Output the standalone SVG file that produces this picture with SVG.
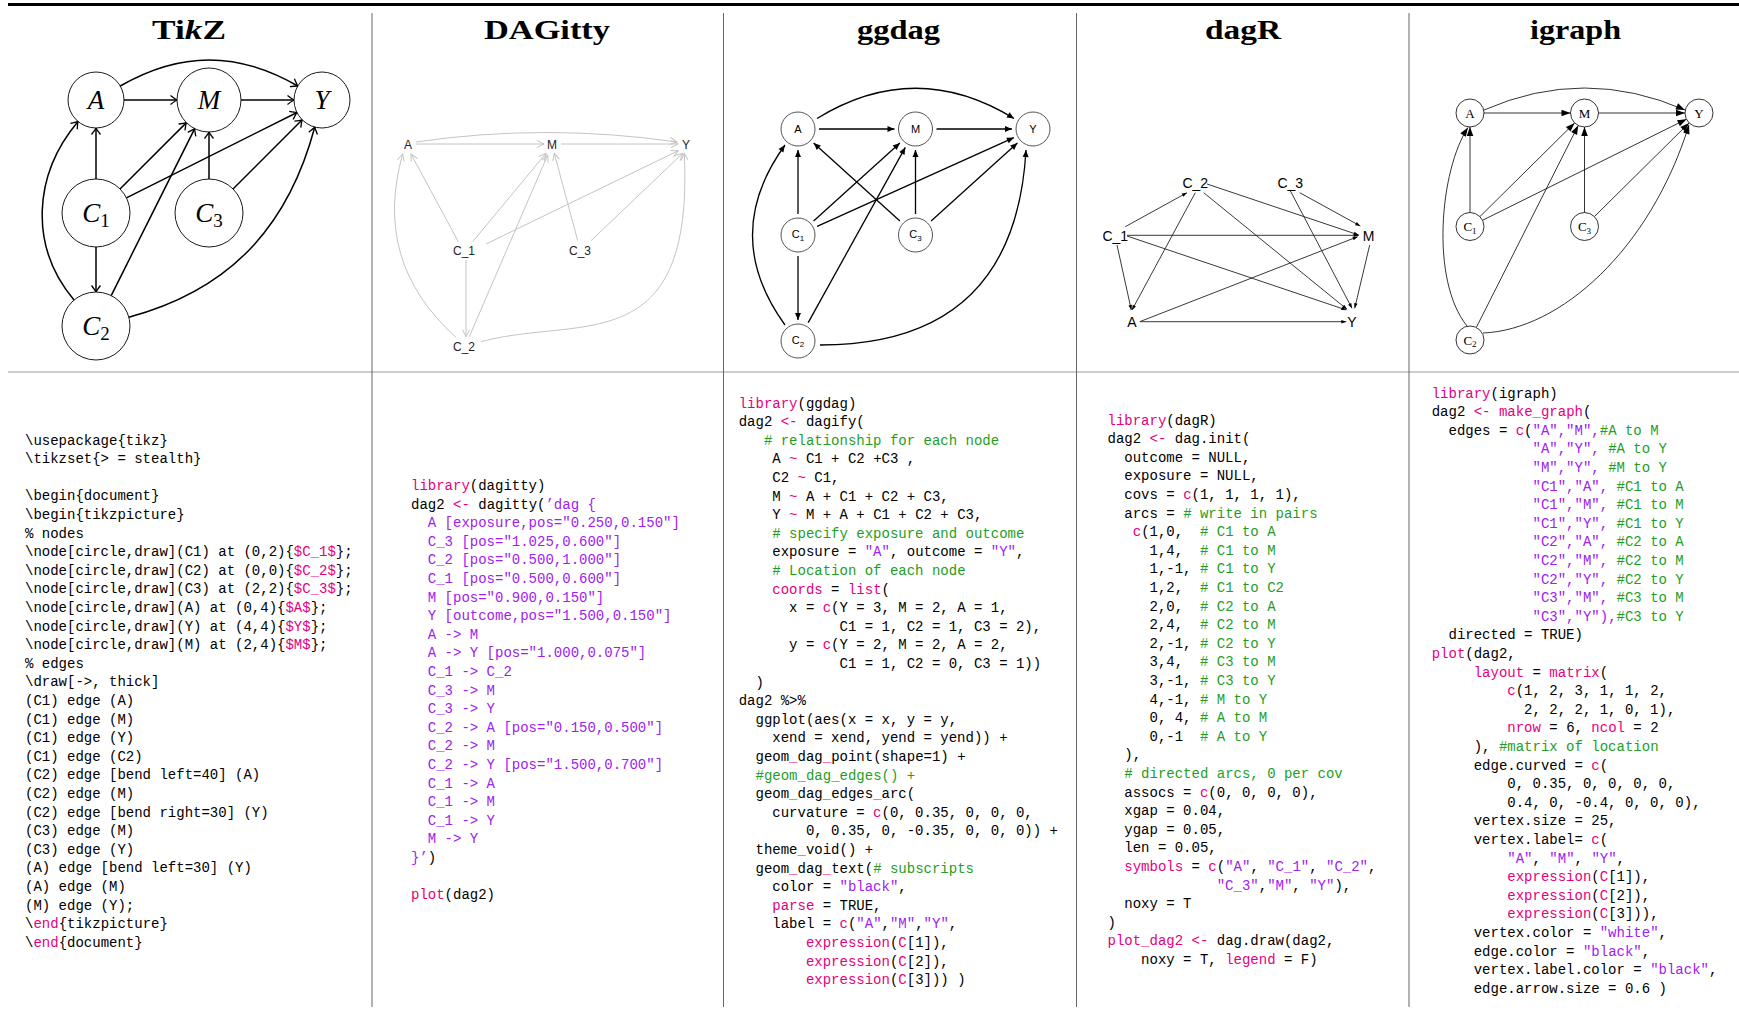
<svg xmlns="http://www.w3.org/2000/svg" width="1739" height="1010" viewBox="0 0 1739 1010">
<style>
.title{font-family:"Liberation Serif",serif;font-weight:bold;font-size:27px;fill:#000}
.code{font-family:"Liberation Mono",monospace;font-size:14px;fill:#000;white-space:pre}
.k{fill:#e5007e}.s{fill:#a020f0}.c{fill:#1f9e1f}
.tkc{fill:#fff;stroke:#000;stroke-width:0.9}
.tkl{font-family:"Liberation Serif",serif;font-style:italic;font-size:27px;text-anchor:middle}
.tke{fill:none;stroke:#000;stroke-width:1.5;marker-end:url(#tk)}
.dgl{font-family:"Liberation Sans",sans-serif;font-size:12px;fill:#222;text-anchor:middle}
.dge{fill:none;stroke:#c4c4c4;stroke-width:1;marker-end:url(#dg)}
.ggc{fill:#fff;stroke:#555;stroke-width:1}
.ggl{font-family:"Liberation Sans",sans-serif;font-size:11px;text-anchor:middle}
.gge{fill:none;stroke:#000;stroke-width:1.3;marker-end:url(#gg)}
.drl{font-family:"Liberation Sans",sans-serif;font-size:14px;text-anchor:middle}
.dre{fill:none;stroke:#222;stroke-width:0.9;marker-end:url(#dr)}
.igc{fill:#fff;stroke:#000;stroke-width:0.8}
.igl{font-family:"Liberation Serif",serif;font-size:13px;text-anchor:middle}
.ige{fill:none;stroke:#000;stroke-width:0.8;marker-end:url(#ig)}
.sep{stroke:#666;stroke-width:1}
</style>
<defs>
<marker id="tk" markerUnits="userSpaceOnUse" markerWidth="14" markerHeight="14" viewBox="-10 -7 14 14" refX="0" refY="0" orient="auto"><path d="M-6.5,-4.5 Q-2,-1 0,0 Q-2,1 -6.5,4.5" fill="none" stroke="#000" stroke-width="1.3"/></marker>
<marker id="dg" markerUnits="userSpaceOnUse" markerWidth="14" markerHeight="14" viewBox="-10 -7 14 14" refX="0" refY="0" orient="auto"><path d="M-7,-3.5 L0,0 L-7,3.5" fill="none" stroke="#c4c4c4" stroke-width="1"/></marker>
<marker id="gg" markerUnits="userSpaceOnUse" markerWidth="14" markerHeight="14" viewBox="-10 -7 14 14" refX="0" refY="0" orient="auto"><path d="M-7,-3 L0,0 L-7,3 Z" fill="#000"/></marker>
<marker id="dr" markerUnits="userSpaceOnUse" markerWidth="14" markerHeight="14" viewBox="-10 -7 14 14" refX="0" refY="0" orient="auto"><path d="M-5,-1.8 L0,0 L-5,1.8 Z" fill="#000"/></marker>
<marker id="ig" markerUnits="userSpaceOnUse" markerWidth="14" markerHeight="14" viewBox="-10 -7 14 14" refX="0" refY="0" orient="auto"><path d="M-9,-3.3 L0,0 L-9,3.3 Z" fill="#000"/></marker>
</defs>
<rect width="1739" height="1010" fill="#fff"/>

<g id="frame">
<line x1="8" y1="4.5" x2="1739" y2="4.5" stroke="#000" stroke-width="3"/>
<line x1="8" y1="372" x2="1739" y2="372" stroke="#999" stroke-width="1"/>
<line class="sep" x1="372" y1="13" x2="372" y2="1007"/>
<line class="sep" x1="723.5" y1="13" x2="723.5" y2="1007"/>
<line class="sep" x1="1076.5" y1="13" x2="1076.5" y2="1007"/>
<line class="sep" x1="1409" y1="13" x2="1409" y2="1007"/>
</g>

<g id="titles">
<text class="title" x="189" y="39" text-anchor="middle" textLength="74" lengthAdjust="spacingAndGlyphs">Ti<tspan font-style="italic">k</tspan>Z</text>
<text class="title" x="547" y="39" text-anchor="middle" textLength="126" lengthAdjust="spacingAndGlyphs">DAGitty</text>
<text class="title" x="898.5" y="39" text-anchor="middle" textLength="83" lengthAdjust="spacingAndGlyphs">ggdag</text>
<text class="title" x="1243" y="39" text-anchor="middle" textLength="76" lengthAdjust="spacingAndGlyphs">dagR</text>
<text class="title" x="1575.5" y="39" text-anchor="middle" textLength="91" lengthAdjust="spacingAndGlyphs">igraph</text>
</g>

<!-- TikZ graph -->
<g id="tikz-edges">
<path class="tke" d="M96,179 L96,128"/>
<path class="tke" d="M120,189 L186.4,122.6"/>
<path class="tke" d="M126.4,197.8 L297,112.5"/>
<path class="tke" d="M96,247 L96,292"/>
<path class="tke" d="M74,300 C29,246.4 33,175 78,121.4"/>
<path class="tke" d="M111.2,295.6 L194.7,128.6"/>
<path class="tke" d="M128.8,317.2 C229.3,290.3 287.9,227.5 314.8,127"/>
<path class="tke" d="M209,179 L209,132"/>
<path class="tke" d="M233,189 L302.2,119.8"/>
<path class="tke" d="M120.2,86 C180.4,51.2 237.6,51.2 297.8,86"/>
<path class="tke" d="M124,100 L177,100"/>
<path class="tke" d="M241,100 L294,100"/>
</g>
<g id="tikz-A"><circle class="tkc" cx="96" cy="100" r="28"/><text class="tkl" x="96" y="109">A</text></g>
<g id="tikz-M"><circle class="tkc" cx="209" cy="100" r="32"/><text class="tkl" x="209" y="109">M</text></g>
<g id="tikz-Y"><circle class="tkc" cx="322" cy="100" r="28"/><text class="tkl" x="322" y="109">Y</text></g>
<g id="tikz-C1"><circle class="tkc" cx="96" cy="213" r="34"/><text class="tkl" x="96" y="222">C<tspan font-style="normal" font-size="19" dy="5">1</tspan></text></g>
<g id="tikz-C3"><circle class="tkc" cx="209" cy="213" r="34"/><text class="tkl" x="209" y="222">C<tspan font-style="normal" font-size="19" dy="5">3</tspan></text></g>
<g id="tikz-C2"><circle class="tkc" cx="96" cy="326" r="34"/><text class="tkl" x="96" y="335">C<tspan font-style="normal" font-size="19" dy="5">2</tspan></text></g>

<!-- DAGitty graph -->
<g id="dagitty-edges">
<path class="dge" d="M416,144 L544,144"/>
<path class="dge" d="M561,144 L678,144"/>
<path class="dge" d="M416,142 Q546,123 677,142"/>
<path class="dge" d="M458.3,241.7 L411,154"/>
<path class="dge" d="M472.7,241.7 L546,153.3"/>
<path class="dge" d="M486,244 L678.3,150.7"/>
<path class="dge" d="M466,260 L466,336.7"/>
<path class="dge" d="M577.7,240.7 L554.3,153.3"/>
<path class="dge" d="M591,240.7 L682.7,153.3"/>
<path class="dge" d="M456,337.3 Q372,262 402.7,154"/>
<path class="dge" d="M469.3,336.7 L547.7,155"/>
<path class="dge" d="M481,341.7 C580,315 694,362 684.3,153.3"/>
</g>
<g id="dagitty-A"><text class="dgl" x="408" y="148.5">A</text></g>
<g id="dagitty-M"><text class="dgl" x="552" y="148.5">M</text></g>
<g id="dagitty-Y"><text class="dgl" x="686" y="148.5">Y</text></g>
<g id="dagitty-C1"><text class="dgl" x="464" y="255">C_1</text></g>
<g id="dagitty-C3"><text class="dgl" x="580" y="255">C_3</text></g>
<g id="dagitty-C2"><text class="dgl" x="464" y="351">C_2</text></g>

<!-- ggdag graph -->
<g id="ggdag-edges">
<path class="gge" d="M819,129 L894.5,129"/>
<path class="gge" d="M936.5,129 L1012,129"/>
<path class="gge" d="M817,118.5 Q915.5,58 1014,118.5"/>
<path class="gge" d="M798,214 L798,150"/>
<path class="gge" d="M813.6,220.9 L899.9,143.1"/>
<path class="gge" d="M817.1,226.4 L1013.9,137.6"/>
<path class="gge" d="M798,256 L798,320"/>
<path class="gge" d="M899.9,220.9 L813.6,143.1"/>
<path class="gge" d="M915.5,214 L915.5,150"/>
<path class="gge" d="M931.1,220.9 L1017.4,143.1"/>
<path class="gge" d="M785,325 Q720,235 785,145"/>
<path class="gge" d="M808.2,322.6 L905.3,147.4"/>
<path class="gge" d="M820,345 Q1015,345 1026,150"/>
</g>
<g id="ggdag-A"><circle class="ggc" cx="798" cy="129" r="17"/><text class="ggl" x="798" y="133">A</text></g>
<g id="ggdag-M"><circle class="ggc" cx="915.5" cy="129" r="17"/><text class="ggl" x="915.5" y="133">M</text></g>
<g id="ggdag-Y"><circle class="ggc" cx="1033" cy="129" r="17"/><text class="ggl" x="1033" y="133">Y</text></g>
<g id="ggdag-C1"><circle class="ggc" cx="798" cy="235" r="17"/><text class="ggl" x="798" y="238">C<tspan font-size="8" dy="2.5">1</tspan></text></g>
<g id="ggdag-C3"><circle class="ggc" cx="915.5" cy="235" r="17"/><text class="ggl" x="915.5" y="238">C<tspan font-size="8" dy="2.5">3</tspan></text></g>
<g id="ggdag-C2"><circle class="ggc" cx="798" cy="341" r="17"/><text class="ggl" x="798" y="344">C<tspan font-size="8" dy="2.5">2</tspan></text></g>

<!-- dagR graph -->
<g id="dagr-edges">
<path class="dre" d="M1125.3,226.7 L1187,192.7"/>
<path class="dre" d="M1127,235.3 L1358.7,235.3" stroke="#555" stroke-width="1.6"/>
<path class="dre" d="M1127,236 L1346.3,310"/>
<path class="dre" d="M1117,245 L1131.3,310"/>
<path class="dre" d="M1195.3,192.7 L1132,310"/>
<path class="dre" d="M1207,184 L1358.7,235"/>
<path class="dre" d="M1203.7,192.7 L1347,309.3"/>
<path class="dre" d="M1299.7,192.7 L1360.3,226"/>
<path class="dre" d="M1290.3,190.7 L1352,308.3"/>
<path class="dre" d="M1369.7,245 L1354.7,308.3"/>
<path class="dre" d="M1139.7,321.7 L1357.7,236.7"/>
<path class="dre" d="M1140.3,321.7 L1346.3,321.7"/>
</g>
<g id="dagr-C2"><text class="drl" x="1195.3" y="187.7">C_2</text></g>
<g id="dagr-C3"><text class="drl" x="1290.3" y="187.7">C_3</text></g>
<g id="dagr-C1"><text class="drl" x="1115.3" y="241">C_1</text></g>
<g id="dagr-M"><text class="drl" x="1368.7" y="241">M</text></g>
<g id="dagr-A"><text class="drl" x="1132" y="326.7">A</text></g>
<g id="dagr-Y"><text class="drl" x="1352" y="326.7">Y</text></g>

<!-- igraph graph -->
<g id="igraph-edges">
<path class="ige" d="M1484,113 L1570.5,113"/>
<path class="ige" d="M1598.5,113 L1685,113"/>
<path class="ige" d="M1484,110 Q1584.5,66 1685,110"/>
<path class="ige" d="M1470,212.5 L1470,127"/>
<path class="ige" d="M1479.9,216.6 L1574.6,122.9"/>
<path class="ige" d="M1482.5,220.3 L1686.5,119.2"/>
<path class="ige" d="M1584.5,212.5 L1584.5,127"/>
<path class="ige" d="M1594.4,216.6 L1689.1,122.9"/>
<path class="ige" d="M1476.3,327.5 L1578.2,125.5"/>
<path class="ige" d="M1467,326 C1430,280 1440,170 1468,127.5"/>
<path class="ige" d="M1483,333 C1560,330 1650,250 1689,125"/>
</g>
<g id="igraph-A"><circle class="igc" cx="1470" cy="113" r="14"/><text class="igl" x="1470" y="117.5">A</text></g>
<g id="igraph-M"><circle class="igc" cx="1584.5" cy="113" r="14"/><text class="igl" x="1584.5" y="117.5">M</text></g>
<g id="igraph-Y"><circle class="igc" cx="1699" cy="113" r="14"/><text class="igl" x="1699" y="117.5">Y</text></g>
<g id="igraph-C1"><circle class="igc" cx="1470" cy="226.5" r="14"/><text class="igl" x="1470" y="231">C<tspan font-size="9" dy="2.5">1</tspan></text></g>
<g id="igraph-C3"><circle class="igc" cx="1584.5" cy="226.5" r="14"/><text class="igl" x="1584.5" y="231">C<tspan font-size="9" dy="2.5">3</tspan></text></g>
<g id="igraph-C2"><circle class="igc" cx="1470" cy="340" r="14"/><text class="igl" x="1470" y="344.5">C<tspan font-size="9" dy="2.5">2</tspan></text></g>

<!-- Code: TikZ -->
<g id="code-tikz" class="code">
<text x="25" y="444.5" xml:space="preserve">\usepackage{tikz}</text>
<text x="25" y="463.1" xml:space="preserve">\tikzset{&gt; = stealth}</text>
<text x="25" y="500.3" xml:space="preserve">\begin{document}</text>
<text x="25" y="518.9" xml:space="preserve">\begin{tikzpicture}</text>
<text x="25" y="537.5" xml:space="preserve">% nodes</text>
<text x="25" y="556.1" xml:space="preserve">\node[circle,draw](C1) at (0,2){<tspan class="k">$C_1$</tspan>};</text>
<text x="25" y="574.7" xml:space="preserve">\node[circle,draw](C2) at (0,0){<tspan class="k">$C_2$</tspan>};</text>
<text x="25" y="593.3" xml:space="preserve">\node[circle,draw](C3) at (2,2){<tspan class="k">$C_3$</tspan>};</text>
<text x="25" y="611.9" xml:space="preserve">\node[circle,draw](A) at (0,4){<tspan class="k">$A$</tspan>};</text>
<text x="25" y="630.5" xml:space="preserve">\node[circle,draw](Y) at (4,4){<tspan class="k">$Y$</tspan>};</text>
<text x="25" y="649.1" xml:space="preserve">\node[circle,draw](M) at (2,4){<tspan class="k">$M$</tspan>};</text>
<text x="25" y="667.7" xml:space="preserve">% edges</text>
<text x="25" y="686.3" xml:space="preserve">\draw[-&gt;, thick]</text>
<text x="25" y="704.9" xml:space="preserve">(C1) edge (A)</text>
<text x="25" y="723.5" xml:space="preserve">(C1) edge (M)</text>
<text x="25" y="742.1" xml:space="preserve">(C1) edge (Y)</text>
<text x="25" y="760.7" xml:space="preserve">(C1) edge (C2)</text>
<text x="25" y="779.3" xml:space="preserve">(C2) edge [bend left=40] (A)</text>
<text x="25" y="797.9" xml:space="preserve">(C2) edge (M)</text>
<text x="25" y="816.5" xml:space="preserve">(C2) edge [bend right=30] (Y)</text>
<text x="25" y="835.1" xml:space="preserve">(C3) edge (M)</text>
<text x="25" y="853.7" xml:space="preserve">(C3) edge (Y)</text>
<text x="25" y="872.3" xml:space="preserve">(A) edge [bend left=30] (Y)</text>
<text x="25" y="890.9" xml:space="preserve">(A) edge (M)</text>
<text x="25" y="909.5" xml:space="preserve">(M) edge (Y);</text>
<text x="25" y="928.1" xml:space="preserve">\<tspan class="k">end</tspan>{tikzpicture}</text>
<text x="25" y="946.7" xml:space="preserve">\<tspan class="k">end</tspan>{document}</text>
</g>

<!-- Code: DAGitty -->
<g id="code-dagitty" class="code">
<text x="411" y="490" xml:space="preserve"><tspan class="k">library</tspan>(dagitty)</text>
<text x="411" y="508.6" xml:space="preserve">dag2 <tspan class="k">&lt;-</tspan> dagitty(<tspan class="s">’dag {</tspan></text>
<text x="411" y="527.2" xml:space="preserve" class="s">  A [exposure,pos="0.250,0.150"]</text>
<text x="411" y="545.8" xml:space="preserve" class="s">  C_3 [pos="1.025,0.600"]</text>
<text x="411" y="564.4" xml:space="preserve" class="s">  C_2 [pos="0.500,1.000"]</text>
<text x="411" y="583" xml:space="preserve" class="s">  C_1 [pos="0.500,0.600"]</text>
<text x="411" y="601.6" xml:space="preserve" class="s">  M [pos="0.900,0.150"]</text>
<text x="411" y="620.2" xml:space="preserve" class="s">  Y [outcome,pos="1.500,0.150"]</text>
<text x="411" y="638.8" xml:space="preserve" class="s">  A -&gt; M</text>
<text x="411" y="657.4" xml:space="preserve" class="s">  A -&gt; Y [pos="1.000,0.075"]</text>
<text x="411" y="676" xml:space="preserve" class="s">  C_1 -&gt; C_2</text>
<text x="411" y="694.6" xml:space="preserve" class="s">  C_3 -&gt; M</text>
<text x="411" y="713.2" xml:space="preserve" class="s">  C_3 -&gt; Y</text>
<text x="411" y="731.8" xml:space="preserve" class="s">  C_2 -&gt; A [pos="0.150,0.500"]</text>
<text x="411" y="750.4" xml:space="preserve" class="s">  C_2 -&gt; M</text>
<text x="411" y="769" xml:space="preserve" class="s">  C_2 -&gt; Y [pos="1.500,0.700"]</text>
<text x="411" y="787.6" xml:space="preserve" class="s">  C_1 -&gt; A</text>
<text x="411" y="806.2" xml:space="preserve" class="s">  C_1 -&gt; M</text>
<text x="411" y="824.8" xml:space="preserve" class="s">  C_1 -&gt; Y</text>
<text x="411" y="843.4" xml:space="preserve" class="s">  M -&gt; Y</text>
<text x="411" y="862" xml:space="preserve"><tspan class="s">}’</tspan>)</text>
<text x="411" y="899.2" xml:space="preserve"><tspan class="k">plot</tspan>(dag2)</text>
</g>

<!-- Code: ggdag -->
<g id="code-ggdag" class="code">
<text x="738.7" y="407.5" xml:space="preserve"><tspan class="k">library</tspan>(ggdag)</text>
<text x="738.7" y="426.1" xml:space="preserve">dag2 <tspan class="k">&lt;-</tspan> dagify(</text>
<text x="738.7" y="444.7" xml:space="preserve">   <tspan class="c"># relationship for each node</tspan></text>
<text x="738.7" y="463.3" xml:space="preserve">    A <tspan class="k">~</tspan> C1 + C2 +C3 ,</text>
<text x="738.7" y="481.9" xml:space="preserve">    C2 <tspan class="k">~</tspan> C1,</text>
<text x="738.7" y="500.5" xml:space="preserve">    M <tspan class="k">~</tspan> A + C1 + C2 + C3,</text>
<text x="738.7" y="519.1" xml:space="preserve">    Y <tspan class="k">~</tspan> M + A + C1 + C2 + C3,</text>
<text x="738.7" y="537.7" xml:space="preserve">    <tspan class="c"># specify exposure and outcome</tspan></text>
<text x="738.7" y="556.3" xml:space="preserve">    exposure = <tspan class="s">"A"</tspan>, outcome = <tspan class="s">"Y"</tspan>,</text>
<text x="738.7" y="574.9" xml:space="preserve">    <tspan class="c"># Location of each node</tspan></text>
<text x="738.7" y="593.5" xml:space="preserve">    <tspan class="k">coords</tspan> = <tspan class="k">list</tspan>(</text>
<text x="738.7" y="612.1" xml:space="preserve">      x = <tspan class="k">c</tspan>(Y = 3, M = 2, A = 1,</text>
<text x="738.7" y="630.7" xml:space="preserve">            C1 = 1, C2 = 1, C3 = 2),</text>
<text x="738.7" y="649.3" xml:space="preserve">      y = <tspan class="k">c</tspan>(Y = 2, M = 2, A = 2,</text>
<text x="738.7" y="667.9" xml:space="preserve">            C1 = 1, C2 = 0, C3 = 1))</text>
<text x="738.7" y="686.5" xml:space="preserve">  )</text>
<text x="738.7" y="705.1" xml:space="preserve">dag2 %&gt;%</text>
<text x="738.7" y="723.7" xml:space="preserve">  ggplot(aes(x = x, y = y,</text>
<text x="738.7" y="742.3" xml:space="preserve">    xend = xend, yend = yend)) +</text>
<text x="738.7" y="760.9" xml:space="preserve">  geom<tspan class="k">_</tspan>dag<tspan class="k">_</tspan>point(shape=1) +</text>
<text x="738.7" y="779.5" xml:space="preserve">  <tspan class="c">#geom</tspan><tspan class="k">_</tspan><tspan class="c">dag</tspan><tspan class="k">_</tspan><tspan class="c">edges() +</tspan></text>
<text x="738.7" y="798.1" xml:space="preserve">  geom<tspan class="k">_</tspan>dag<tspan class="k">_</tspan>edges<tspan class="k">_</tspan>arc(</text>
<text x="738.7" y="816.7" xml:space="preserve">    curvature = <tspan class="k">c</tspan>(0, 0.35, 0, 0, 0,</text>
<text x="738.7" y="835.3" xml:space="preserve">        0, 0.35, 0, -0.35, 0, 0, 0)) +</text>
<text x="738.7" y="853.9" xml:space="preserve">  theme<tspan class="k">_</tspan>void() +</text>
<text x="738.7" y="872.5" xml:space="preserve">  geom<tspan class="k">_</tspan>dag<tspan class="k">_</tspan>text(<tspan class="c"># subscripts</tspan></text>
<text x="738.7" y="891.1" xml:space="preserve">    color = <tspan class="s">"black"</tspan>,</text>
<text x="738.7" y="909.7" xml:space="preserve">    <tspan class="k">parse</tspan> = TRUE,</text>
<text x="738.7" y="928.3" xml:space="preserve">    label = <tspan class="k">c</tspan>(<tspan class="s">"A"</tspan>,<tspan class="s">"M"</tspan>,<tspan class="s">"Y"</tspan>,</text>
<text x="738.7" y="946.9" xml:space="preserve">        <tspan class="k">expression</tspan>(<tspan class="k">C</tspan>[1]),</text>
<text x="738.7" y="965.5" xml:space="preserve">        <tspan class="k">expression</tspan>(<tspan class="k">C</tspan>[2]),</text>
<text x="738.7" y="984.1" xml:space="preserve">        <tspan class="k">expression</tspan>(<tspan class="k">C</tspan>[3])) )</text>
</g>

<!-- Code: dagR -->
<g id="code-dagr" class="code">
<text x="1107.5" y="424.5" xml:space="preserve"><tspan class="k">library</tspan>(dagR)</text>
<text x="1107.5" y="443.1" xml:space="preserve">dag2 <tspan class="k">&lt;-</tspan> dag.init(</text>
<text x="1107.5" y="461.7" xml:space="preserve">  outcome = NULL,</text>
<text x="1107.5" y="480.3" xml:space="preserve">  exposure = NULL,</text>
<text x="1107.5" y="498.9" xml:space="preserve">  covs = <tspan class="k">c</tspan>(1, 1, 1, 1),</text>
<text x="1107.5" y="517.5" xml:space="preserve">  arcs = <tspan class="c"># write in pairs</tspan></text>
<text x="1107.5" y="536.1" xml:space="preserve">   <tspan class="k">c</tspan>(1,0,  <tspan class="c"># C1 to A</tspan></text>
<text x="1107.5" y="554.7" xml:space="preserve">     1,4,  <tspan class="c"># C1 to M</tspan></text>
<text x="1107.5" y="573.3" xml:space="preserve">     1,-1, <tspan class="c"># C1 to Y</tspan></text>
<text x="1107.5" y="591.9" xml:space="preserve">     1,2,  <tspan class="c"># C1 to C2</tspan></text>
<text x="1107.5" y="610.5" xml:space="preserve">     2,0,  <tspan class="c"># C2 to A</tspan></text>
<text x="1107.5" y="629.1" xml:space="preserve">     2,4,  <tspan class="c"># C2 to M</tspan></text>
<text x="1107.5" y="647.7" xml:space="preserve">     2,-1, <tspan class="c"># C2 to Y</tspan></text>
<text x="1107.5" y="666.3" xml:space="preserve">     3,4,  <tspan class="c"># C3 to M</tspan></text>
<text x="1107.5" y="684.9" xml:space="preserve">     3,-1, <tspan class="c"># C3 to Y</tspan></text>
<text x="1107.5" y="703.5" xml:space="preserve">     4,-1, <tspan class="c"># M to Y</tspan></text>
<text x="1107.5" y="722.1" xml:space="preserve">     0, 4, <tspan class="c"># A to M</tspan></text>
<text x="1107.5" y="740.7" xml:space="preserve">     0,-1  <tspan class="c"># A to Y</tspan></text>
<text x="1107.5" y="759.3" xml:space="preserve">  ),</text>
<text x="1107.5" y="777.9" xml:space="preserve">  <tspan class="c"># directed arcs, 0 per cov</tspan></text>
<text x="1107.5" y="796.5" xml:space="preserve">  assocs = <tspan class="k">c</tspan>(0, 0, 0, 0),</text>
<text x="1107.5" y="815.1" xml:space="preserve">  xgap = 0.04,</text>
<text x="1107.5" y="833.7" xml:space="preserve">  ygap = 0.05,</text>
<text x="1107.5" y="852.3" xml:space="preserve">  len = 0.05,</text>
<text x="1107.5" y="870.9" xml:space="preserve">  <tspan class="k">symbols</tspan> = <tspan class="k">c</tspan>(<tspan class="s">"A"</tspan>, <tspan class="s">"C_1"</tspan>, <tspan class="s">"C_2"</tspan>,</text>
<text x="1107.5" y="889.5" xml:space="preserve">             <tspan class="s">"C_3"</tspan>,<tspan class="s">"M"</tspan>, <tspan class="s">"Y"</tspan>),</text>
<text x="1107.5" y="908.1" xml:space="preserve">  noxy = T</text>
<text x="1107.5" y="926.7" xml:space="preserve">)</text>
<text x="1107.5" y="945.3" xml:space="preserve"><tspan class="k">plot_dag2</tspan> <tspan class="k">&lt;-</tspan> dag.draw(dag2,</text>
<text x="1107.5" y="963.9" xml:space="preserve">    noxy = T, <tspan class="k">legend</tspan> = F)</text>
</g>

<!-- Code: igraph -->
<g id="code-igraph" class="code">
<text x="1431.7" y="397.5" xml:space="preserve"><tspan class="k">library</tspan>(igraph)</text>
<text x="1431.7" y="416.1" xml:space="preserve">dag2 <tspan class="k">&lt;-</tspan> <tspan class="k">make_graph</tspan>(</text>
<text x="1431.7" y="434.7" xml:space="preserve">  edges = <tspan class="k">c</tspan>(<tspan class="s">"A","M",</tspan><tspan class="c">#A to M</tspan></text>
<text x="1431.7" y="453.3" xml:space="preserve">            <tspan class="s">"A","Y",</tspan> <tspan class="c">#A to Y</tspan></text>
<text x="1431.7" y="471.9" xml:space="preserve">            <tspan class="s">"M","Y",</tspan> <tspan class="c">#M to Y</tspan></text>
<text x="1431.7" y="490.5" xml:space="preserve">            <tspan class="s">"C1","A",</tspan> <tspan class="c">#C1 to A</tspan></text>
<text x="1431.7" y="509.1" xml:space="preserve">            <tspan class="s">"C1","M",</tspan> <tspan class="c">#C1 to M</tspan></text>
<text x="1431.7" y="527.7" xml:space="preserve">            <tspan class="s">"C1","Y",</tspan> <tspan class="c">#C1 to Y</tspan></text>
<text x="1431.7" y="546.3" xml:space="preserve">            <tspan class="s">"C2","A",</tspan> <tspan class="c">#C2 to A</tspan></text>
<text x="1431.7" y="564.9" xml:space="preserve">            <tspan class="s">"C2","M",</tspan> <tspan class="c">#C2 to M</tspan></text>
<text x="1431.7" y="583.5" xml:space="preserve">            <tspan class="s">"C2","Y",</tspan> <tspan class="c">#C2 to Y</tspan></text>
<text x="1431.7" y="602.1" xml:space="preserve">            <tspan class="s">"C3","M",</tspan> <tspan class="c">#C3 to M</tspan></text>
<text x="1431.7" y="620.7" xml:space="preserve">            <tspan class="s">"C3","Y"),</tspan><tspan class="c">#C3 to Y</tspan></text>
<text x="1431.7" y="639.3" xml:space="preserve">  directed = TRUE)</text>
<text x="1431.7" y="657.9" xml:space="preserve"><tspan class="k">plot</tspan>(dag2,</text>
<text x="1431.7" y="676.5" xml:space="preserve">     <tspan class="k">layout</tspan> = <tspan class="k">matrix</tspan>(</text>
<text x="1431.7" y="695.1" xml:space="preserve">         <tspan class="k">c</tspan>(1, 2, 3, 1, 1, 2,</text>
<text x="1431.7" y="713.7" xml:space="preserve">           2, 2, 2, 1, 0, 1),</text>
<text x="1431.7" y="732.3" xml:space="preserve">         <tspan class="k">nrow</tspan> = 6, <tspan class="k">ncol</tspan> = 2</text>
<text x="1431.7" y="750.9" xml:space="preserve">     ), <tspan class="c">#matrix of location</tspan></text>
<text x="1431.7" y="769.5" xml:space="preserve">     edge.curved = <tspan class="k">c</tspan>(</text>
<text x="1431.7" y="788.1" xml:space="preserve">         0, 0.35, 0, 0, 0, 0,</text>
<text x="1431.7" y="806.7" xml:space="preserve">         0.4, 0, -0.4, 0, 0, 0),</text>
<text x="1431.7" y="825.3" xml:space="preserve">     vertex.size = 25,</text>
<text x="1431.7" y="843.9" xml:space="preserve">     vertex.label= <tspan class="k">c</tspan>(</text>
<text x="1431.7" y="862.5" xml:space="preserve">         <tspan class="s">"A"</tspan>, <tspan class="s">"M"</tspan>, <tspan class="s">"Y"</tspan>,</text>
<text x="1431.7" y="881.1" xml:space="preserve">         <tspan class="k">expression</tspan>(<tspan class="k">C</tspan>[1]),</text>
<text x="1431.7" y="899.7" xml:space="preserve">         <tspan class="k">expression</tspan>(<tspan class="k">C</tspan>[2]),</text>
<text x="1431.7" y="918.3" xml:space="preserve">         <tspan class="k">expression</tspan>(<tspan class="k">C</tspan>[3])),</text>
<text x="1431.7" y="936.9" xml:space="preserve">     vertex.color = <tspan class="s">"white"</tspan>,</text>
<text x="1431.7" y="955.5" xml:space="preserve">     edge.color = <tspan class="s">"black"</tspan>,</text>
<text x="1431.7" y="974.1" xml:space="preserve">     vertex.label.color = <tspan class="s">"black"</tspan>,</text>
<text x="1431.7" y="992.7" xml:space="preserve">     edge.arrow.size = 0.6 )</text>
</g>
</svg>
